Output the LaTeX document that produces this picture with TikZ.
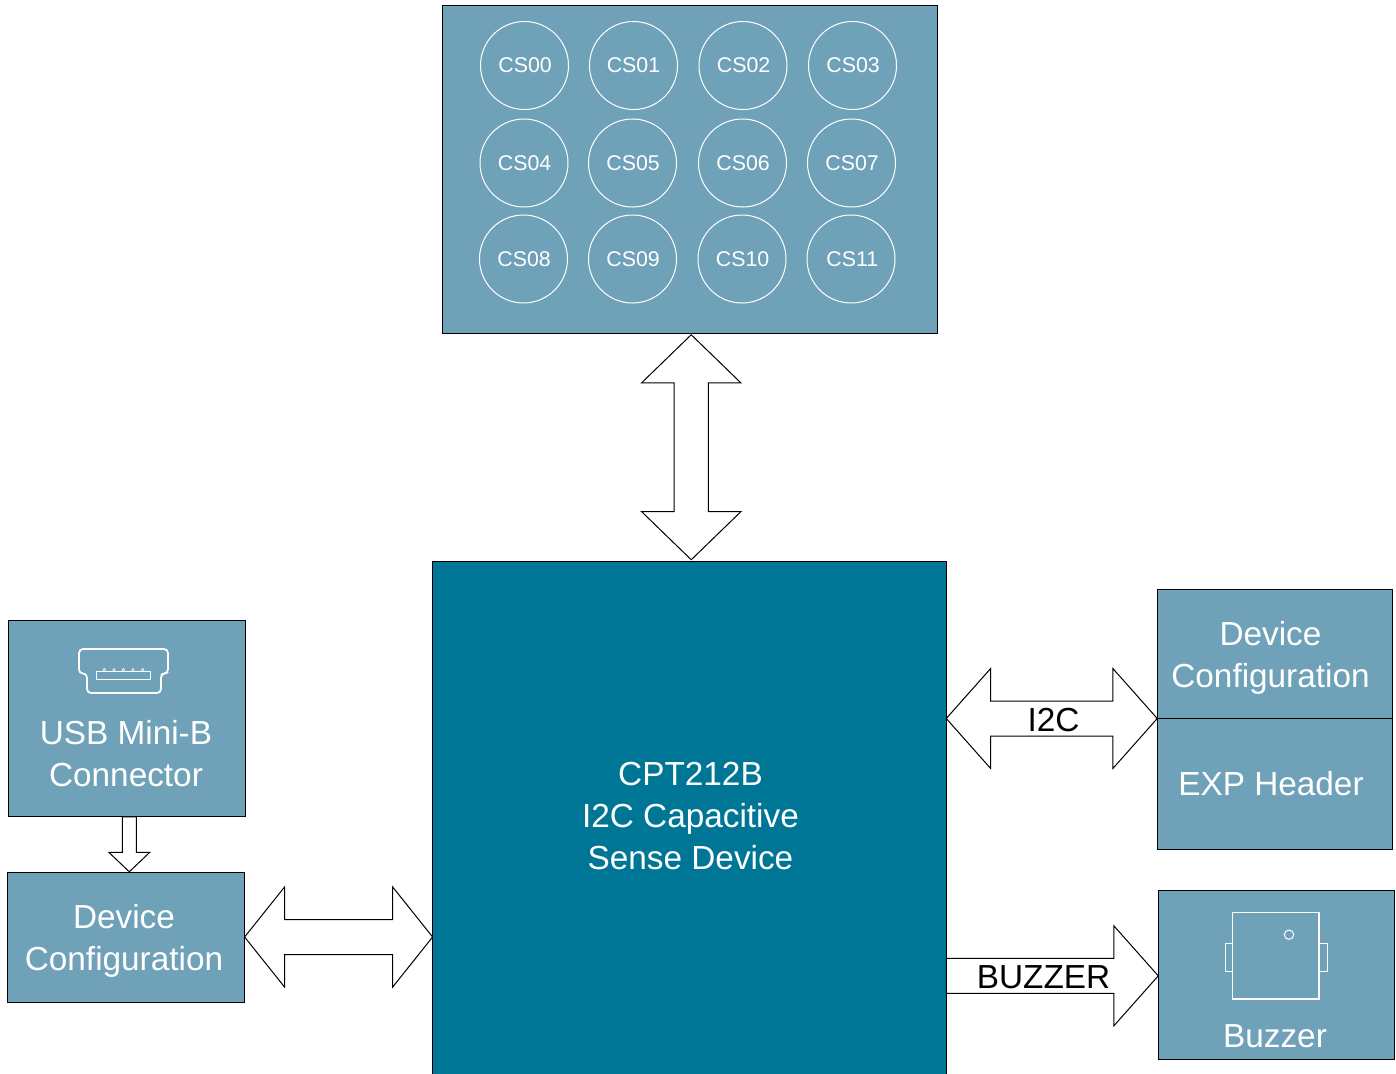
\documentclass[tikz,border=0pt]{standalone}
\usepackage{fontspec}
\setmainfont{Liberation Sans}
\usetikzlibrary{positioning, shapes.arrows, calc}
\definecolor{panelblue}{HTML}{6FA2B8}
\definecolor{mainblue}{HTML}{007696}
\tikzset{
	panel/.style={draw=black, line width=0.75pt, fill=panelblue, inner sep=0pt, outer sep=0pt},
	mainbox/.style={draw=black, line width=0.75pt, fill=mainblue, inner sep=0pt, outer sep=0pt},
	bigtext/.style={text=white, align=center, font=\fontsize{25}{31.4}\selectfont},
	linktext/.style={text=black, font=\fontsize{25}{30}\selectfont},
	touchpad/.style={circle, draw=white, line width=0.75pt, text=white, minimum size=66pt, inner sep=0pt, font=\fontsize{16}{19}\selectfont},
	iconline/.style={draw=white, line width=1pt},
	dualarrow/.style={double arrow, draw=black, line width=0.75pt, fill=white, inner sep=0pt, outer sep=0pt},
	onearrow/.style={single arrow, draw=black, line width=0.75pt, fill=white, inner sep=0pt, outer sep=0pt}
}
\begin{document}
\begin{tikzpicture}[x=0.75pt, y=-0.75pt]
	\useasboundingbox (0,0) rectangle (1396,1074);
	% blocks
	\node[panel, minimum width=370.9pt, minimum height=246pt] (touch) at (689.75,169.5) {};
	\node[mainbox, minimum width=385.5pt, minimum height=384.75pt] (main) at (689.25,817.5) {};
	\node[panel, minimum width=176.25pt, minimum height=96.75pt] (devcfgr) at (1274.75,654) {};
	\node[panel, minimum width=176.25pt, minimum height=98.25pt] (exp) at (1274.75,784) {};
	\node[panel, minimum width=177pt, minimum height=126.75pt] (buzzer) at (1276,974.5) {};
	\node[panel, minimum width=178.1pt, minimum height=147.4pt] (usb) at (126.75,718.5) {};
	\node[panel, minimum width=178.1pt, minimum height=97.5pt] (devcfgl) at (126.25,937) {};
	% touch pads
	\node[touchpad] (cs00) at (524.5,65.5) {\raisebox{-0.8pt}{\hspace{1pt}CS00}};
	\node[touchpad] (cs01) at (633.5,65.5) {\raisebox{-0.8pt}{CS01}};
	\node[touchpad] (cs02) at (743,65.5) {\raisebox{-0.8pt}{\hspace{1pt}CS02}};
	\node[touchpad] (cs03) at (852.5,65.5) {\raisebox{-0.8pt}{\hspace{1pt}CS03}};
	\node[touchpad] (cs04) at (524,163) {\hspace{1pt}CS04};
	\node[touchpad] (cs05) at (632.5,163) {\hspace{1pt}CS05};
	\node[touchpad] (cs06) at (742.5,163) {\hspace{1pt}CS06};
	\node[touchpad] (cs07) at (851.5,163) {\hspace{1pt}CS07};
	\node[touchpad] (cs08) at (523.5,259) {\hspace{1pt}CS08};
	\node[touchpad] (cs09) at (632.5,259) {\hspace{1pt}CS09};
	\node[touchpad] (cs10) at (742,259) {\hspace{1pt}CS10};
	\node[touchpad] (cs11) at (851,259) {\hspace{2pt}CS11};
	% arrows
	\node[dualarrow, shape border rotate=90, minimum height=168.75pt, minimum width=74.25pt,
		inner xsep=12.4pt, double arrow tip angle=91.8, double arrow head extend=24.4pt]
		(touchlink) at ($(touch.south)!0.5!(main.north)$) [xshift=1.3pt] {};
	\node[dualarrow, minimum height=158.25pt, minimum width=74.25pt,
		inner ysep=12.75pt, double arrow tip angle=96.8, double arrow head extend=24.4pt]
		(i2clink) at ($(main.east |- exp.north)!0.5!(exp.north west)$) {};
	\node[dualarrow, minimum height=141pt, minimum width=74.25pt,
		inner ysep=12.75pt, double arrow tip angle=102.8, double arrow head extend=24.4pt]
		(cfglink) at ($(devcfgl.east)!0.5!(main.west |- devcfgl.east)$) {};
	\node[onearrow, minimum height=159pt, minimum width=74.25pt, anchor=tail,
		inner ysep=12.75pt, single arrow tip angle=96.8, single arrow head extend=24.4pt]
		(buzzlink) at (main.east |- buzzer.west) [yshift=-1pt] {};
	\node[onearrow, shape border rotate=270, minimum height=41.25pt, minimum width=30pt, anchor=tail,
		inner xsep=4.9pt, single arrow tip angle=92.9, single arrow head extend=10.1pt]
		(usblink) at (usb.south) [xshift=1.9pt] {};
	% texts
	\node[bigtext] (maintext) at (690.5,816) {CPT212B\\I2C Capacitive\\Sense Device};
	\node[bigtext] (devcfgrtext) at (1270.5,657.5) {Device\\Configuration};
	\node[bigtext] (exptext) at (1271,784) {EXP Header};
	\node[bigtext] (buzzertext) at (1275,1036) {Buzzer};
	\node[bigtext] (usbtext) at (126,754) {USB Mini-B\\Connector};
	\node[bigtext] (devcfgltext) at (124,941) {Device\\Configuration};
	\node[linktext] (i2ctext) at (1053.5,720) {I2C};
	\node[linktext] (buzztext) at (1043.5,977.5) {BUZZER};
	% usb icon
	\draw[iconline, line width=1.3pt, rounded corners=3pt] (79,649) -- (168,649) -- (168,673.5) -- (161,673.5) -- (161,693) -- (87,693) -- (87,673.5) -- (79,673.5) -- cycle;
	\draw[draw=white, line width=0.6pt] (96.3,671) rectangle (150.7,679.7);
	\draw[draw=white, line width=0.4pt] (104.3,669.7) circle (1.3) (114,669.7) circle (1.3) (123.3,669.7) circle (1.3) (133,669.7) circle (1.3) (142.7,669.7) circle (1.3);
	% buzzer icon
	\draw[iconline] (1232.7,912.7) rectangle (1319,999);
	\draw[draw=white, line width=0.75pt] (1232.7,943) -- (1225.5,943) -- (1225.5,971.7) -- (1232.7,971.7);
	\draw[draw=white, line width=0.75pt] (1319,943) -- (1327,943) -- (1327,971.7) -- (1319,971.7);
	\draw[draw=white, line width=0.75pt] (1289,934.7) circle (4.7);
\end{tikzpicture}
\end{document}
